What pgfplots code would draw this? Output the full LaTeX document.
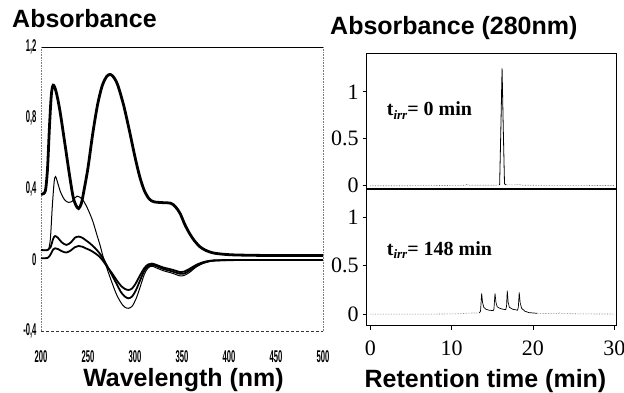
\documentclass[border=0pt]{standalone}
\usepackage{pgfplots}
\pgfplotsset{compat=1.18}
\usepackage{fontspec}
\usepackage{graphicx}
\setmainfont{Liberation Serif}
\newfontfamily\arialf{Liberation Sans}
\newcommand\cond[1]{\scalebox{0.45}[1]{\fontsize{17}{17}\selectfont\arialf\bfseries #1}}
\newcommand\tirr{t\raisebox{-0.35ex}{\fontsize{13}{13}\selectfont\bfseries\itshape irr}}

\pgfplotstableread{
x y
200 0.37
203 0.375
205 0.40
207 0.52
209 0.75
211 0.93
213 0.985
216 0.95
220 0.845
225 0.67
230 0.49
234 0.36
237 0.31
240 0.29
243 0.32
246 0.40
250 0.52
255 0.71
260 0.87
265 0.98
270 1.035
274 1.045
278 1.025
282 0.98
288 0.87
294 0.73
300 0.58
305 0.47
310 0.39
315 0.345
320 0.328
330 0.323
338 0.32
343 0.30
348 0.262
353 0.20
358 0.15
363 0.11
369 0.075
375 0.055
383 0.04
395 0.032
410 0.028
450 0.025
500 0.025
}\curveA

\pgfplotstableread{
x y
200 0.056
206 0.056
208 0.06
210 0.12
212 0.30
214 0.44
215.5 0.47
218 0.43
221 0.38
225 0.34
229 0.325
233 0.33
236 0.35
238.5 0.36
241 0.355
245 0.335
250 0.285
255 0.22
259 0.15
263 0.08
266 0.02
270 -0.045
275 -0.12
280 -0.19
285 -0.24
289 -0.265
293 -0.272
297 -0.26
301 -0.22
305 -0.16
310 -0.08
314 -0.045
318 -0.035
323 -0.045
330 -0.06
340 -0.075
348 -0.09
352 -0.088
358 -0.07
365 -0.04
372 -0.02
380 -0.008
390 -0.003
420 0
500 0
}\curveB

\pgfplotstableread{
x y
200 0.056
207 0.056
210 0.07
213 0.12
215 0.135
218 0.125
222 0.10
227 0.085
232 0.10
236 0.125
240 0.132
244 0.125
248 0.11
252 0.094
257 0.07
262 0.04
266 0.01
270 -0.03
275 -0.08
280 -0.13
285 -0.18
289 -0.205
293 -0.216
297 -0.205
301 -0.17
305 -0.12
310 -0.06
314 -0.035
318 -0.028
323 -0.035
330 -0.05
340 -0.065
348 -0.078
352 -0.077
358 -0.06
365 -0.035
372 -0.017
380 -0.006
390 -0.002
420 0
500 0
}\curveC

\pgfplotstableread{
x y
200 0.01
207 0.012
210 0.03
213 0.06
215 0.066
218 0.062
222 0.05
227 0.042
232 0.055
236 0.072
240 0.079
244 0.075
248 0.065
252 0.056
257 0.04
262 0.02
266 -0.005
270 -0.035
275 -0.07
280 -0.11
285 -0.145
289 -0.162
293 -0.169
297 -0.16
301 -0.13
305 -0.09
310 -0.045
314 -0.025
318 -0.02
323 -0.028
330 -0.042
340 -0.055
348 -0.068
352 -0.066
358 -0.05
365 -0.028
372 -0.013
380 -0.004
390 -0.001
420 0
500 0
}\curveD

\begin{document}
\begin{tikzpicture}[x=1pt,y=1pt]
\useasboundingbox (0,0) rectangle (624,392);

\node[anchor=base west, inner sep=0, font=\fontsize{25}{25}\selectfont\arialf\bfseries] at (12,364) {Absorbance};
\node[anchor=base west, inner sep=0, font=\fontsize{25}{25}\selectfont\arialf\bfseries] at (330,357) {Absorbance (280nm)};
\node[anchor=base, inner sep=0, font=\fontsize{25}{25}\selectfont\arialf\bfseries] at (183.5,6) {Wavelength (nm)};
\node[anchor=base, inner sep=0, font=\fontsize{25}{25}\selectfont\arialf\bfseries] at (485.5,5) {Retention time (min)};

% Left: UV/CD spectra
\begin{axis}[at={(41pt,61pt)}, anchor=south west, scale only axis,
  width=282pt, height=284pt,
  xmin=200, xmax=500, ymin=-0.4, ymax=1.2,
  axis line style={draw=none}, major tick length=0pt,
  xtick={200,250,300,350,400,450,500},
  xticklabels={\cond{200},\cond{250},\cond{300},\cond{350},\cond{400},\cond{450},\cond{500}},
  ytick={-0.4,0,0.4,0.8,1.2},
  yticklabels={\cond{-0,4},\cond{0},\cond{0,4},\cond{0,8},\cond{1,2}},
  xticklabel style={yshift=-16pt},
  yticklabel style={xshift=-1pt},
  clip=false]
  \draw[black, line width=0.9pt] (rel axis cs:0,1) -- (rel axis cs:1,1);
  \draw[black!80, line width=0.9pt, densely dashed] (rel axis cs:0,0) -- (rel axis cs:1,0);
  \draw[black!50, line width=0.6pt, densely dotted] (rel axis cs:0,0) -- (rel axis cs:0,1);
  \draw[black!50, line width=0.6pt, densely dotted] (rel axis cs:1,0) -- (rel axis cs:1,1);
  \addplot[black, line width=2.8pt, smooth, tension=0.5] table {\curveA};
  \addplot[black, line width=1.0pt, smooth, tension=0.5] table {\curveB};
  \addplot[black, line width=1.8pt, smooth, tension=0.5] table {\curveC};
  \addplot[black, line width=1.8pt, smooth, tension=0.5] table {\curveD};
\end{axis}

% Right top: chromatogram t=0
\begin{axis}[at={(366.7pt,203pt)}, anchor=south west, scale only axis,
  width=250pt, height=135.7pt,
  xmin=-0.45, xmax=30.3, ymin=-0.035, ymax=1.41,
  axis line style={line width=1.1pt},
  xtick=\empty,
  ytick={0,0.5,1}, yticklabels={0,0.5,1},
  ytick pos=left, tick align=outside, major tick length=4pt,
  every tick/.style={black, line width=0.8pt},
  tick label style={font=\fontsize{22}{22}\selectfont},
  yticklabel style={inner sep=1pt, xshift=-3pt}]
  \addplot[black!55, line width=0.6pt, densely dotted] coordinates {
    (0,0) (5,0) (10,0.003) (11.7,0.005) (11.9,0.015) (12.1,0.005) (14,0.005) (15.5,0.005) (15.9,0.01)};
  \addplot[black, line width=0.8pt] coordinates {
    (15.9,0.01) (16.05,0.6) (16.2,1.25) (16.35,0.6) (16.5,0.02) (16.7,0.01)};
  \addplot[black!55, line width=0.6pt, densely dotted] coordinates {
    (16.7,0.01) (17.5,0.008) (18.1,0.012) (18.4,0.012) (18.7,0.005) (22,0.004) (30,0.002)};
  \node[anchor=west, font=\fontsize{20}{20}\selectfont\bfseries] at (axis cs:1.6,0.8) {\tirr= 0 min};
\end{axis}

% Right bottom: chromatogram t=148
\begin{axis}[at={(366.7pt,66.3pt)}, anchor=south west, scale only axis,
  width=250pt, height=136.7pt,
  xmin=-0.45, xmax=30.3, ymin=-0.12, ymax=1.29,
  axis line style={line width=1.1pt},
  xtick={0,10,20,30}, xticklabels={0,10,20,30},
  ytick={0,0.5,1}, yticklabels={0,0.5,1},
  xtick pos=left, ytick pos=left, tick align=outside, major tick length=4pt,
  every tick/.style={black, line width=0.8pt},
  tick label style={font=\fontsize{22}{22}\selectfont},
  yticklabel style={inner sep=1pt, xshift=-3pt},
  xticklabel style={yshift=-8pt}]
  \addplot[black!55, line width=0.6pt, densely dotted] coordinates {
    (0,0) (8,0) (11,0.003) (12,0.01) (13.4,0.012)};
  \addplot[black, line width=0.7pt] coordinates {
    (13.4,0.012) (13.55,0.03) (13.69,0.214) (13.8,0.12) (13.95,0.07) (14.2,0.05) (14.6,0.04)
    (15.1,0.035) (15.2,0.05) (15.33,0.214) (15.45,0.12) (15.6,0.075) (15.9,0.06) (16.3,0.05)
    (16.65,0.045) (16.75,0.08) (16.84,0.241) (16.95,0.12) (17.1,0.07) (17.5,0.05) (18.1,0.04)
    (18.2,0.07) (18.31,0.224) (18.42,0.12) (18.6,0.06) (19,0.03) (19.5,0.015) (20.5,0.008)};
  \addplot[black!55, line width=0.6pt, densely dotted] coordinates {
    (20.5,0.008) (22,0.005) (23.1,0.005) (23.3,0.012) (23.6,0.005) (26,0.002) (30,0)};
  \node[anchor=west, font=\fontsize{20}{20}\selectfont\bfseries] at (axis cs:1.6,0.66) {\tirr= 148 min};
\end{axis}
\end{tikzpicture}
\end{document}
